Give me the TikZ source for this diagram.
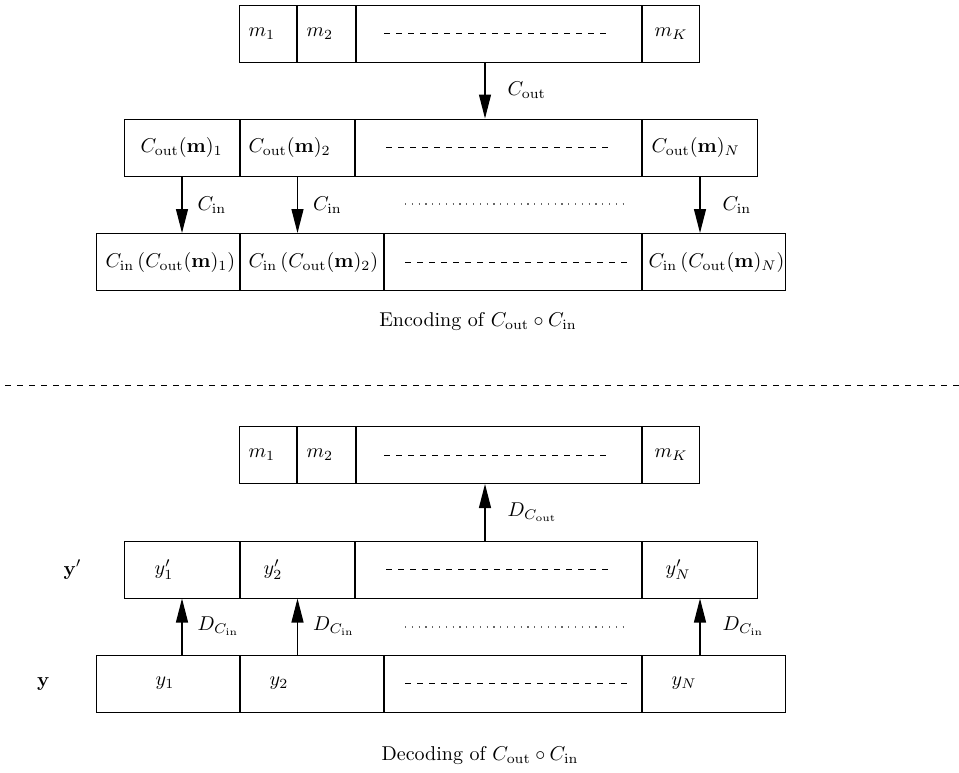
\documentclass[tikz,border=0pt]{standalone}
\usepackage{amsmath}
\usetikzlibrary{arrows.meta,positioning}

\begin{document}
\begin{tikzpicture}[x=0.5pt,y=-0.5pt,
	cell/.style={draw, line width=0.5pt, anchor=west, align=left, minimum height=28.5pt, inner ysep=0pt},
	arr/.style={-{Triangle[length=12pt,width=6pt]}, line width=0.6pt},
	lbl/.style={inner sep=0pt},
	dotline/.style={line width=0.6pt, black!60, dash pattern=on 0.6pt off 2.8pt}]
	\useasboundingbox (0,0) rectangle (959,772);
	% encoding
	\node[cell, text width=19.5pt, inner xsep=4.5pt] (m1) at (239,33.5) {$m_1$};
	\node[cell, text width=20pt, inner xsep=4.5pt] (m2) at (m1.east) {$m_2$};
	\node[cell, minimum width=142.5pt] (mdots) at (m2.east) {};
	\node[cell, text width=16.5pt, inner xsep=6pt] (mK) at (mdots.east) {$m_K$};
	\draw[dashed] ([xshift=14pt]mdots.west) -- ([xshift=-18pt]mdots.east);

	\node[cell, text width=41.5pt, inner xsep=8pt] (c1) at (124,147.5) {$C_{\mathrm{out}}(\mathbf{m})_1$};
	\node[cell, text width=49pt, inner xsep=4pt] (c2) at (c1.east) {$C_{\mathrm{out}}(\mathbf{m})_2$};
	\node[cell, minimum width=143pt] (cdots) at (c2.east) {};
	\node[cell, text width=48.5pt, inner xsep=4.5pt] (cN) at (cdots.east) {$C_{\mathrm{out}}(\mathbf{m})_N$};
	\draw[dashed] ([xshift=15.5pt]cdots.west) -- ([xshift=-16.5pt]cdots.east);

	\node[cell, text width=62.5pt, inner xsep=4.5pt] (e1) at (96,262) {$C_{\mathrm{in}}\,(C_{\mathrm{out}}(\mathbf{m})_1)$};
	\node[cell, text width=63.5pt, inner xsep=4pt] (e2) at (e1.east) {$C_{\mathrm{in}}\,(C_{\mathrm{out}}(\mathbf{m})_2)$};
	\node[cell, minimum width=128.5pt] (edots) at (e2.east) {};
	\node[cell, text width=65.5pt, inner xsep=3pt] (eN) at (edots.east) {$C_{\mathrm{in}}\,(C_{\mathrm{out}}(\mathbf{m})_N)$};
	\draw[dashed] ([xshift=10.5pt]edots.west) -- ([xshift=-6pt]edots.east);

	\draw[arr] ([xshift=-7pt]mdots.south) -- ([xshift=-7pt]mdots.south |- cdots.north)
		node[lbl, midway, right=11pt] (coutlab) {$C_{\mathrm{out}}$};
	\draw[arr] (c1.south) -- (c1.south |- e1.north) node[lbl, midway, right=7.5pt] (cin1) {$C_{\mathrm{in}}$};
	\draw[arr] (c2.south) -- (c2.south |- e2.north) node[lbl, midway, right=7.5pt] (cin2) {$C_{\mathrm{in}}$};
	\draw[arr] (cN.south) -- (cN.south |- eN.north) node[lbl, midway, right=11pt] (cinN) {$C_{\mathrm{in}}$};
	\draw[dotline] (405,204) -- (628,204);

	\node (enccap) at (478,322) {Encoding of $C_{\mathrm{out}}\circ C_{\mathrm{in}}$};

	\draw[dashed] (5,385) -- (959,385);

	% decoding
	\node[cell, text width=19.5pt, inner xsep=4.5pt] (dm1) at (239,455) {$m_1$};
	\node[cell, text width=20pt, inner xsep=4.5pt] (dm2) at (dm1.east) {$m_2$};
	\node[cell, minimum width=142.5pt] (dmdots) at (dm2.east) {};
	\node[cell, text width=16.5pt, inner xsep=6pt] (dmK) at (dmdots.east) {$m_K$};
	\draw[dashed] ([xshift=14pt]dmdots.west) -- ([xshift=-18pt]dmdots.east);

	\node[cell, text width=27.5pt, inner xsep=15pt] (yp1) at (124,569.5) {$y'_1$};
	\node[cell, text width=34pt, inner xsep=11.5pt] (yp2) at (yp1.east) {$y'_2$};
	\node[cell, minimum width=143pt] (ypdots) at (yp2.east) {};
	\node[cell, text width=34.5pt, inner xsep=11.5pt] (ypN) at (ypdots.east) {$y'_N$};
	\draw[dashed] ([xshift=15.5pt]ypdots.west) -- ([xshift=-16.5pt]ypdots.east);

	\node[cell, text width=12.5pt, inner xsep=29.5pt] (y1) at (96,683.5) {$y_1$};
	\node[cell, text width=42.5pt, inner xsep=14.5pt] (y2) at (y1.east) {$y_2$};
	\node[cell, minimum width=128.5pt] (ydots) at (y2.east) {};
	\node[cell, text width=42.5pt, inner xsep=14.5pt] (yN) at (ydots.east) {$y_N$};
	\draw[dashed] ([xshift=10.5pt]ydots.west) -- ([xshift=-6pt]ydots.east);

	\node[lbl, left=21pt of yp1] (yplab) {$\mathbf{y}'$};
	\node[lbl, left=23pt of y1] (ylab) {$\mathbf{y}$};

	\draw[arr] ([xshift=-7pt]dmdots.south |- ypdots.north) -- ([xshift=-7pt]dmdots.south)
		node[lbl, midway, right=11pt] (dcoutlab) {$D_{C_{\mathrm{out}}}$};
	\draw[arr] (y1.north -| yp1.south) -- (yp1.south) node[lbl, midway, right=7.5pt] (dcin1) {$D_{C_{\mathrm{in}}}$};
	\draw[arr] (y2.north -| yp2.south) -- (yp2.south) node[lbl, midway, right=7.5pt] (dcin2) {$D_{C_{\mathrm{in}}}$};
	\draw[arr] (yN.north -| ypN.south) -- (ypN.south) node[lbl, midway, right=11pt] (dcinN) {$D_{C_{\mathrm{in}}}$};
	\draw[dotline] (405,627) -- (628,627);

	\node (deccap) at (480,755) {Decoding of $C_{\mathrm{out}}\circ C_{\mathrm{in}}$};
\end{tikzpicture}
\end{document}
